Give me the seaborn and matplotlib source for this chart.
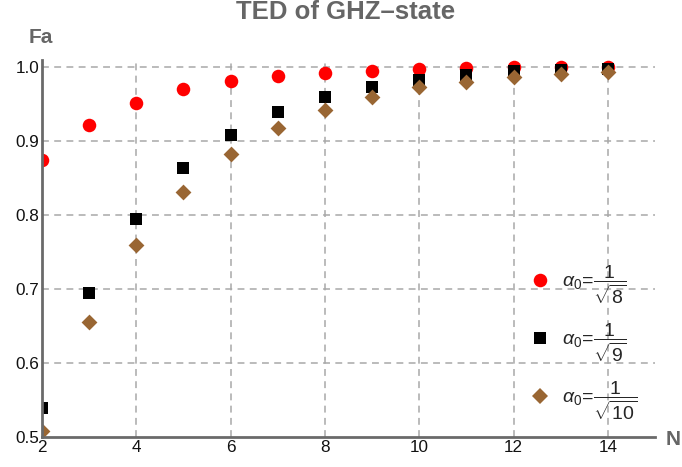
import numpy as np
import pandas as pd
import matplotlib
matplotlib.use("Agg")
import matplotlib.pyplot as plt
from matplotlib.ticker import MultipleLocator
from matplotlib.lines import Line2D
import seaborn as sns

# ---- data ----
N_vals = [2, 3, 4, 5, 6, 7, 8, 9, 10, 11, 12, 13, 14]
fa_8 = [0.875, 0.922, 0.952, 0.970, 0.981, 0.988, 0.992, 0.995, 0.998, 0.999, 0.9997, 0.9999, 1.0]
fa_9 = [0.539, 0.694, 0.795, 0.863, 0.908, 0.939, 0.959, 0.9725, 0.982, 0.989, 0.995, 0.9966, 0.997]
fa_10 = [0.508, 0.656, 0.759, 0.831, 0.882, 0.918, 0.942, 0.960, 0.9725, 0.980, 0.986, 0.990, 0.9937]
labels = [r"$\alpha_0\!=\!\dfrac{1}{\sqrt{8}}$",
          r"$\alpha_0\!=\!\dfrac{1}{\sqrt{9}}$",
          r"$\alpha_0\!=\!\dfrac{1}{\sqrt{10}}$"]
title = "TED of GHZ\u2013state"
ylab = "Fa"
xlab = "N"

df = pd.DataFrame({
    "N": N_vals * 3,
    "Fa": fa_8 + fa_9 + fa_10,
    "series": [labels[0]] * len(N_vals) + [labels[1]] * len(N_vals) + [labels[2]] * len(N_vals),
})

sns.set_style("white")
plt.rcParams["font.family"] = ["Liberation Sans", "DejaVu Sans"]
plt.rcParams["mathtext.fontset"] = "custom"
plt.rcParams["mathtext.rm"] = "Liberation Sans"
plt.rcParams["mathtext.it"] = "Liberation Sans:italic"
plt.rcParams["mathtext.bf"] = "Liberation Sans:bold"

colors = {labels[0]: "#ff0000", labels[1]: "#000000", labels[2]: "#996633"}
markers = {labels[0]: "o", labels[1]: "s", labels[2]: "D"}
sizes = {labels[0]: 95, labels[1]: 85, labels[2]: 65}

fig = plt.figure(figsize=(6.82, 4.67), dpi=100)
ax = fig.add_axes([42/682, 1 - 437/467, 613/682, 377/467])

for lab in labels:
    sub = df[df["series"] == lab]
    sns.scatterplot(data=sub, x="N", y="Fa", color=colors[lab], marker=markers[lab],
                    s=sizes[lab], linewidth=0, ax=ax, zorder=5, legend=False)

ax.set_xlim(2, 15.0)
ax.set_ylim(0.5, 1.0095)
ax.set_xlabel("")
ax.set_ylabel("")

axis_col = "#6a6a6a"
for sp in ["top", "right"]:
    ax.spines[sp].set_visible(False)
for sp in ["left", "bottom"]:
    ax.spines[sp].set_color(axis_col)
    ax.spines[sp].set_linewidth(2.0)
    ax.spines[sp].set_zorder(6)

ax.xaxis.set_major_locator(MultipleLocator(2))
ax.xaxis.set_minor_locator(MultipleLocator(0.5))
ax.yaxis.set_major_locator(MultipleLocator(0.1))
ax.yaxis.set_minor_locator(MultipleLocator(0.02))
ax.tick_params(axis="both", which="major", direction="in", length=5, width=1.5,
               color=axis_col, labelsize=12.3, labelcolor="#111111", pad=2)
ax.tick_params(axis="both", which="minor", direction="in", length=3, width=1.2, color=axis_col)
ax.set_yticks([0.5, 0.6, 0.7, 0.8, 0.9, 1.0])
ax.set_yticklabels(["0.5", "0.6", "0.7", "0.8", "0.9", "1.0"])

for xv in [4, 6, 8, 10, 12, 14]:
    ax.axvline(xv, color="#a8a8a8", lw=1.1, ls=(0, (4.5, 3.5)), zorder=1)
for yv in [0.6, 0.7, 0.8, 0.9, 1.0]:
    ax.axhline(yv, color="#a8a8a8", lw=1.1, ls=(0, (4.5, 3.5)), zorder=1)

handles = [Line2D([], [], ls="", marker=markers[l], color=colors[l],
                  markersize=np.sqrt(sizes[l]), markeredgewidth=0) for l in labels]
ax.legend(handles, labels, loc="center left", bbox_to_anchor=(0.78, 0.25),
          frameon=False, fontsize=14, handlelength=1.0, handletextpad=0.65,
          labelspacing=0.82, borderpad=0)

fig.text(346/682, 1 - 19/467, title, ha="center", va="baseline",
         fontsize=18.5, fontweight="bold", color="#666666")
fig.text(29/682, 1 - 43/467, ylab, ha="left", va="baseline",
         fontsize=15, fontweight="bold", color="#666666")
fig.text(666/682, 1 - 445/467, xlab, ha="left", va="baseline",
         fontsize=15, fontweight="bold", color="#666666")

fig.savefig("out.png", dpi=100)
